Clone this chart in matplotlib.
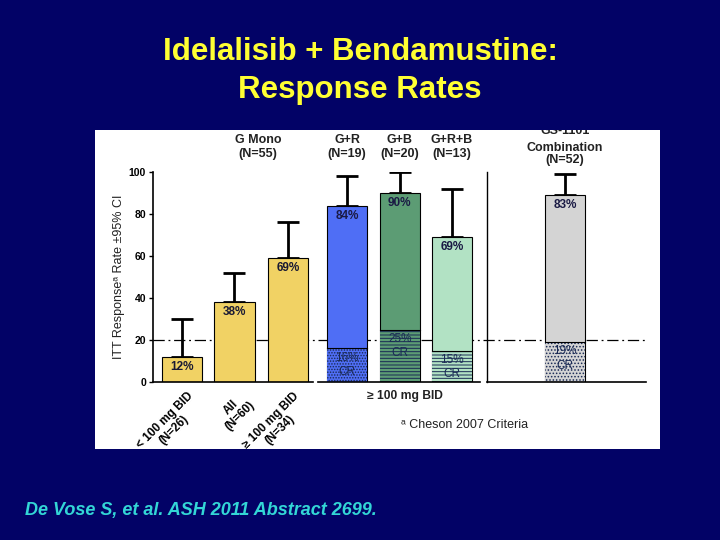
import numpy as np
import matplotlib
matplotlib.use('Agg')
import matplotlib.pyplot as plt
from matplotlib.patches import Rectangle

plt.rcParams['font.family'] = ['Liberation Sans', 'DejaVu Sans']
plt.rcParams['hatch.linewidth'] = 0.7

# ---------------- data ----------------
mono_labels = ['< 100 mg BID\n(N=26)', 'All\n(N=60)', '\u2265 100 mg BID\n(N=34)']
mono_orr = [12, 38, 59]
mono_ci_high = [30, 52, 76]
mono_text = ['12%', '38%', '69%']

combo_names = ['G+R\n(N=19)', 'G+B\n(N=20)', 'G+R+B\n(N=13)', 'GS-1101\nCombination\n(N=52)']
combo_orr = [84, 90, 69, 89]
combo_cr = [16, 25, 15, 19]
combo_ci_high = [98, 100, 92, 99]
combo_text = ['84%', '90%', '69%', '83%']
combo_cr_text = ['16%\nCR', '25%\nCR', '15%\nCR', '19%\nCR']

yticks = [0, 20, 40, 60, 80, 100]

# ---------------- layout ----------------
navy = '#020266'
mono_x = np.array([0, 1, 2.02])
combo_x = np.array([3.15, 4.15, 5.15, 7.3])
width = 0.77
combo_colors = ['#4f6ef5', '#5c9c74', '#b2e2c4', '#d4d4d4']
cr_hatch = ['......', '-----', '-----', '.....']

W, H = 720, 540
fig = plt.figure(figsize=(7.2, 5.4), dpi=100, facecolor=navy)

def fx(px):
    return px / W

def fy(py):
    return 1 - py / H

panel = Rectangle((fx(95), fy(449)), fx(660) - fx(95), fy(130) - fy(449),
                  transform=fig.transFigure, facecolor='white', edgecolor='none', zorder=-5)
fig.patches.append(panel)

ax = fig.add_axes([fx(153), fy(382), fx(646) - fx(153), fy(172) - fy(382)])
ax.set_facecolor('none')
ax.set_zorder(1)
ax.set_xlim(-0.55, 8.84)
ax.set_ylim(0, 100)
for s in ['top', 'right', 'bottom']:
    ax.spines[s].set_visible(False)
ax.spines['left'].set_linewidth(1.2)

# reference line at 20%
ax.axhline(20, color='black', lw=0.9, ls=(0, (9, 3, 1.5, 3)), zorder=1)

# monotherapy bars
ax.bar(mono_x, mono_orr, width, color='#f1d264', edgecolor='black', lw=0.8, zorder=2)
ax.errorbar(mono_x, mono_orr, yerr=[np.zeros(3), np.array(mono_ci_high) - np.array(mono_orr)],
            fmt='none', ecolor='black', elinewidth=2, capsize=8, capthick=2, zorder=1)
for x, v, t in zip(mono_x, mono_orr, mono_text):
    ax.text(x, v - 2, t, ha='center', va='top', fontsize=8.5, fontweight='bold', color='#1a1a33', zorder=4)

# combination bars
ax.bar(combo_x, combo_orr, width, color=combo_colors, edgecolor='black', lw=0.8, zorder=2)
ax.errorbar(combo_x, combo_orr, yerr=[np.zeros(4), np.array(combo_ci_high) - np.array(combo_orr)],
            fmt='none', ecolor='black', elinewidth=2, capsize=8, capthick=2, zorder=1)
for x, cr, c, h in zip(combo_x, combo_cr, combo_colors, cr_hatch):
    ax.bar(x, cr, width, color=c, edgecolor='#1a2a55', lw=0, hatch=h, zorder=3)
    ax.plot([x - width / 2, x + width / 2], [cr, cr], color='black', lw=0.8, zorder=3)
for x, v, t in zip(combo_x, combo_orr, combo_text):
    ax.text(x, v - 2, t, ha='center', va='top', fontsize=8.5, fontweight='bold', color='#1a1a44', zorder=4)
for x, cr, t in zip(combo_x, combo_cr, combo_cr_text):
    ax.text(x, cr - 1.5, t, ha='center', va='top', fontsize=8.5, color='#1a2a55',
            linespacing=1.3, zorder=4)

# broken x axis and separator
for a, b in [(-0.55, 2.5), (2.6, 5.68), (5.81, 8.84)]:
    ax.plot([a, b], [0, 0], color='black', lw=1.2, clip_on=False, zorder=5)
ax.plot([5.81, 5.81], [0, 100], color='black', lw=1.0, clip_on=False, zorder=5)

ax.set_yticks(yticks)
ax.set_yticklabels([str(t) for t in yticks], fontsize=7.5, fontweight='bold')
ax.tick_params(axis='y', length=3, width=1, pad=2)
ax.set_xticks(mono_x + 0.1)
ax.set_xticklabels(mono_labels, rotation=45, ha='right', rotation_mode='anchor',
                   fontsize=8.5, fontweight='bold', multialignment='center', linespacing=1.05)
ax.tick_params(axis='x', length=0, pad=6)

ax.set_ylabel('ITT Response\u1d43 Rate \u00b195% CI', fontsize=9, color='#222222', labelpad=3)

# group headings
fig.text(fx(258), fy(147), 'G Mono\n(N=55)', ha='center', va='center', fontsize=9,
         fontweight='bold', color='#222222', linespacing=1.15)
for x, name in zip(combo_x, combo_names):
    px = 181.7 + x * 52.5
    if name.startswith('GS'):
        first, rest = name.split('\n', 1)
        fig.text(fx(px), fy(131), first, ha='center', va='center', fontsize=9,
                 fontweight='bold', color='#222222')
        fig.text(fx(px), fy(154), rest, ha='center', va='center', fontsize=9,
                 fontweight='bold', color='#222222', linespacing=1.1)
    else:
        fig.text(fx(px), fy(147), name, ha='center', va='center', fontsize=9,
                 fontweight='bold', color='#222222', linespacing=1.15)

# navy band covering the top of the clipped heading
fig.patches.append(Rectangle((fx(95), fy(130)), fx(660) - fx(95), fy(112) - fy(130),
                             transform=fig.transFigure, facecolor=navy, edgecolor='none', zorder=10))

fig.text(fx(405), fy(396), '\u2265 100 mg BID', ha='center', va='center', fontsize=8.7,
         fontweight='bold', color='#222222')
fig.text(fx(465), fy(425), '\u1d43 Cheson 2007 Criteria', ha='center', va='center', fontsize=9,
         color='#222222')

# slide title and citation
fig.text(0.5, fy(71), 'Idelalisib + Bendamustine:\nResponse Rates', ha='center', va='center',
         fontsize=22.5, fontweight='bold', color='#ffff33', linespacing=1.35)
fig.text(fx(25), fy(510), 'De Vose S, et al. ASH 2011 Abstract 2699.', ha='left', va='center',
         fontsize=13, fontweight='bold', fontstyle='italic', color='#33d6d6')

fig.savefig('out.png', dpi=100, facecolor=navy)
